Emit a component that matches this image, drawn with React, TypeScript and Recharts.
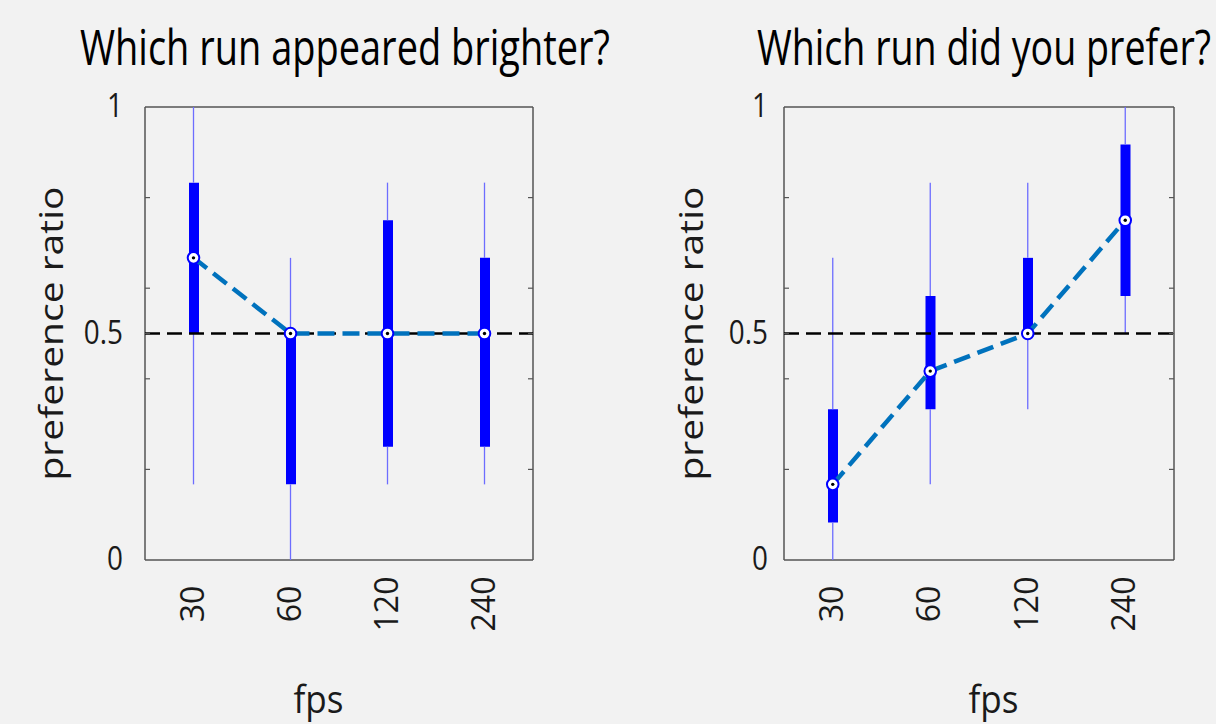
import React from 'react';
import {
  ComposedChart,
  Bar,
  Line,
  XAxis,
  YAxis,
  ReferenceLine,
  ErrorBar,
  CartesianGrid,
  Label,
} from 'recharts';

// ---------- data ----------
const fpsLabels = ['30', '60', '120', '240'];

// "Which run appeared brighter?"
const brighterMedian = [0.667, 0.5, 0.5, 0.5];
const brighterQ1 = [0.5, 0.167, 0.25, 0.25];
const brighterQ3 = [0.833, 0.5, 0.75, 0.667];
const brighterMin = [0.167, 0, 0.167, 0.167];
const brighterMax = [1, 0.667, 0.833, 0.833];

// "Which run did you prefer?"
const preferMedian = [0.167, 0.417, 0.5, 0.75];
const preferQ1 = [0.083, 0.333, 0.5, 0.583];
const preferQ3 = [0.333, 0.583, 0.667, 0.917];
const preferMin = [0, 0.167, 0.333, 0.5];
const preferMax = [0.667, 0.833, 0.833, 1];

const yLabeledTicks = [0, 0.5, 1];
const yMinorTicks = [0.2, 0.4, 0.6, 0.8];
const yTicks = [...yLabeledTicks, ...yMinorTicks].sort((a, b) => a - b);
const referenceValue = 0.5;

const titles = ['Which run appeared brighter?', 'Which run did you prefer?'];
const yLabelText = 'preference ratio';
const xLabelText = 'fps';

// ---------- styles ----------
const FONT = "'Open Sans', 'Noto Sans', sans-serif";
const BG = '#f2f2f2';
const BOX = '#0000ff';
const WHISKER = '#6d6dff';
const MEAN_LINE = '#0072bd';
const FRAME = '#555555';
const TEXT = '#1a1a1a';

function buildRows(
  median: number[],
  q1: number[],
  q3: number[],
  min: number[],
  max: number[]
) {
  return fpsLabels.map((fps, i) => ({
    fps,
    median: median[i],
    box: [q1[i], q3[i]],
    q1: q1[i],
    q3: q3[i],
    lowErr: [q1[i] - min[i], 0],
    highErr: [0, max[i] - q3[i]],
  }));
}

const brighterRows = buildRows(brighterMedian, brighterQ1, brighterQ3, brighterMin, brighterMax);
const preferRows = buildRows(preferMedian, preferQ1, preferQ3, preferMin, preferMax);

const MedianDot = (props: any) => {
  const { cx, cy } = props;
  if (cx == null || cy == null) return null;
  return (
    <g>
      <circle cx={cx} cy={cy} r={5.8} fill="#ffffff" stroke={BOX} strokeWidth={2} />
      <circle cx={cx} cy={cy} r={1.7} fill="#000000" />
    </g>
  );
};

const makeYTick = (labelOffset: number, plotWidth: number) => (props: any) => {
  const { x, y, payload } = props;
  const v = payload.value as number;
  const labeled = yLabeledTicks.includes(v);
  return (
    <g>
      {v > 0 && v < 1 && (
        <>
          <line x1={x} x2={x + 5} y1={y} y2={y} stroke={FRAME} strokeWidth={1.2} />
          <line x1={x + plotWidth - 5} x2={x + plotWidth} y1={y} y2={y} stroke={FRAME} strokeWidth={1.2} />
        </>
      )}
      {labeled && (
        <text
          transform={`translate(${x + labelOffset},${y + 10}) scale(0.87,1)`}
          textAnchor="end"
          fontFamily={FONT}
          fontSize={32}
          fill={TEXT}
        >
          {String(v)}
        </text>
      )}
    </g>
  );
};

const XTick = (props: any) => {
  const { x, y, payload } = props;
  return (
    <text
      transform={`translate(${x + 10},${y + 44}) rotate(-90)`}
      textAnchor="middle"
      fontFamily={FONT}
      fontSize={32}
      fill={TEXT}
    >
      {payload.value}
    </text>
  );
};

type PanelProps = {
  rows: ReturnType<typeof buildRows>;
  width: number;
  marginLeft: number;
  marginRight: number;
  labelOffset: number;
  yLabelX: number;
  fpsX: number;
};

const Panel = ({ rows, width, marginLeft, marginRight, labelOffset, yLabelX, fpsX }: PanelProps) => {
  const yAxisWidth = 60;
  const plotWidth = width - marginLeft - marginRight - yAxisWidth;
  return (
    <ComposedChart
      width={width}
      height={724}
      data={rows}
      margin={{ top: 107, right: marginRight, bottom: 64, left: marginLeft }}
      barCategoryGap={0}
    >
      <CartesianGrid
        stroke={FRAME}
        strokeWidth={1.5}
        horizontalCoordinatesGenerator={({ offset }: any) => [offset.top, offset.top + offset.height]}
        verticalCoordinatesGenerator={({ offset }: any) => [offset.left, offset.left + offset.width]}
      />
      <XAxis
        dataKey="fps"
        type="category"
        interval={0}
        height={100}
        axisLine={false}
        tickLine={false}
        tickSize={0}
        tickMargin={0}
        tick={<XTick />}
      >
        <Label
          content={() => (
            <text
              x={fpsX}
              y={713}
              textAnchor="middle"
              fontFamily={FONT}
              fontSize={39}
              fill={TEXT}
              textLength={50}
              lengthAdjust="spacingAndGlyphs"
            >
              {xLabelText}
            </text>
          )}
        />
      </XAxis>
      <YAxis
        domain={[0, 1]}
        ticks={yTicks}
        type="number"
        width={yAxisWidth}
        axisLine={false}
        tickLine={false}
        tickSize={0}
        tickMargin={0}
        interval={0}
        tick={makeYTick(labelOffset, plotWidth)}
      >
        <Label
          content={() => (
            <text
              transform={`translate(${yLabelX},333.5) scale(0.85,1) rotate(-90)`}
              textAnchor="middle"
              fontFamily={FONT}
              fontSize={39}
              fill={TEXT}
            >
              {yLabelText}
            </text>
          )}
        />
      </YAxis>
      <Line
        dataKey="q1"
        stroke="none"
        dot={false}
        activeDot={false}
        isAnimationActive={false}
        legendType="none"
      >
        <ErrorBar dataKey="lowErr" direction="y" width={0} stroke={WHISKER} strokeWidth={1.3} isAnimationActive={false} />
      </Line>
      <Line
        dataKey="q3"
        stroke="none"
        dot={false}
        activeDot={false}
        isAnimationActive={false}
        legendType="none"
      >
        <ErrorBar dataKey="highErr" direction="y" width={0} stroke={WHISKER} strokeWidth={1.3} isAnimationActive={false} />
      </Line>
      <Bar dataKey="box" barSize={10} fill={BOX} isAnimationActive={false} />
      <Line
        dataKey="median"
        stroke="none"
        dot={<MedianDot />}
        activeDot={false}
        isAnimationActive={false}
        legendType="none"
      />
      <ReferenceLine y={referenceValue} stroke="#000000" strokeWidth={2.5} strokeDasharray="15 7" />
      <Line
        dataKey="median"
        stroke={MEAN_LINE}
        strokeWidth={4.5}
        strokeDasharray="17 8"
        dot={false}
        activeDot={false}
        isAnimationActive={false}
      />
    </ComposedChart>
  );
};

export default function App() {
  return (
    <div
      style={{
        position: 'absolute',
        left: 0,
        top: 0,
        width: 1216,
        height: 724,
        background: BG,
        overflow: 'hidden',
      }}
    >
      <div style={{ position: 'absolute', left: 0, top: 0 }}>
        <Panel rows={brighterRows} width={600} marginLeft={85} marginRight={67} labelOffset={-22} yLabelX={63} fpsX={318.5} />
      </div>
      <div style={{ position: 'absolute', left: 600, top: 0 }}>
        <Panel rows={preferRows} width={616} marginLeft={124} marginRight={42} labelOffset={-16} yLabelX={103} fpsX={393.5} />
      </div>
      <svg
        width={1216}
        height={100}
        style={{ position: 'absolute', left: 0, top: 0, pointerEvents: 'none' }}
      >
        <text x={80} y={65} fontFamily={FONT} fontSize={49} fill="#000" textLength={530} lengthAdjust="spacingAndGlyphs">
          {titles[0]}
        </text>
        <text x={757} y={65} fontFamily={FONT} fontSize={49} fill="#000" textLength={454} lengthAdjust="spacingAndGlyphs">
          {titles[1]}
        </text>
      </svg>
    </div>
  );
}
